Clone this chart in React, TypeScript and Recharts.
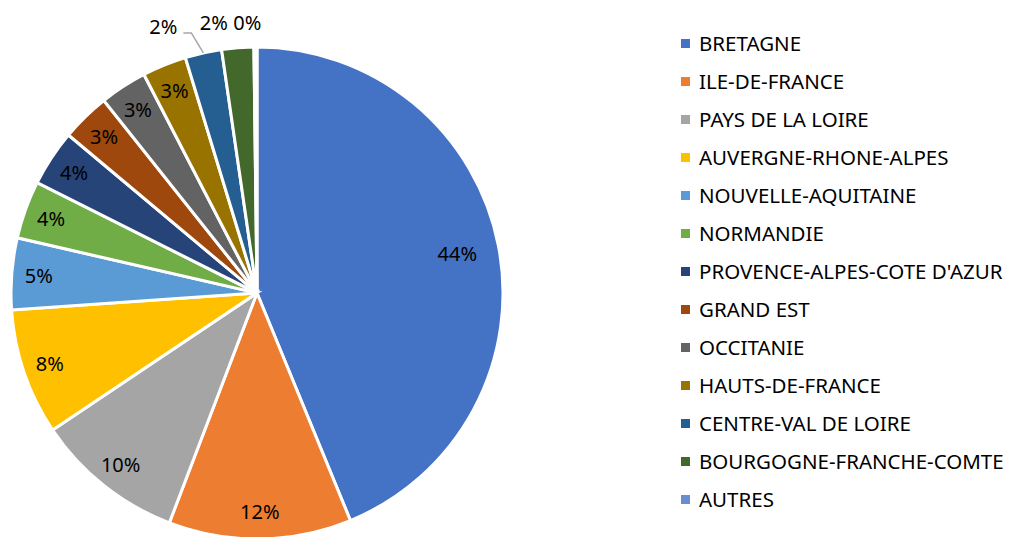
import React from 'react';
import { PieChart, Pie, Cell, Legend } from 'recharts';

const regions = [
  'BRETAGNE',
  'ILE-DE-FRANCE',
  'PAYS DE LA LOIRE',
  'AUVERGNE-RHONE-ALPES',
  'NOUVELLE-AQUITAINE',
  'NORMANDIE',
  "PROVENCE-ALPES-COTE D'AZUR",
  'GRAND EST',
  'OCCITANIE',
  'HAUTS-DE-FRANCE',
  'CENTRE-VAL DE LOIRE',
  'BOURGOGNE-FRANCHE-COMTE',
  'AUTRES'
];

const shares = [43.8, 12.0, 9.8, 8.3, 4.7, 3.8, 3.7, 3.2, 3.1, 2.9, 2.4, 2.1, 0.2];

const colors = [
  '#4472C4', '#ED7D31', '#A5A5A5', '#FFC000', '#5B9BD5', '#70AD47',
  '#264478', '#9E480E', '#636363', '#997300', '#255E91', '#43682B', '#698ED0'
];

const data = regions.map((name, i) => ({ name, value: shares[i] }));

const FONT = '"Noto Sans", sans-serif';
const RAD = Math.PI / 180;

const renderLabel = (props: any) => {
  const { cx, cy, midAngle, outerRadius, percent, index } = props;
  const text = `${Math.round(percent * 100)}%`;
  const cos = Math.cos(-midAngle * RAD);
  const sin = Math.sin(-midAngle * RAD);

  if (index === 10) {
    // small slice: label outside with a leader line
    const sx = cx + outerRadius * cos;
    const sy = cy + outerRadius * sin;
    const ex = sx - 12;
    const ey = sy - 20;
    return (
      <g>
        <polyline
          points={`${sx},${sy} ${ex},${ey} ${ex - 8},${ey}`}
          fill="none"
          stroke="#A6A6A6"
          strokeWidth={1.5}
        />
        <text x={ex - 28} y={ey - 6} textAnchor="middle" dominantBaseline="central"
          fontFamily={FONT} fontSize={20} fill="#000">{text}</text>
      </g>
    );
  }
  if (index >= 11) {
    const r = outerRadius + 25;
    const x = cx + r * cos + (index === 11 ? -22 : -8);
    const y = cy + r * sin;
    return (
      <text x={x} y={y} textAnchor="middle" dominantBaseline="central"
        fontFamily={FONT} fontSize={20} fill="#000">{text}</text>
    );
  }
  const r = outerRadius * (percent > 0.3 ? 0.83 : 0.89);
  return (
    <text x={cx + r * cos} y={cy + r * sin} textAnchor="middle" dominantBaseline="central"
      fontFamily={FONT} fontSize={20} fill="#000">{text}</text>
  );
};

// legend keeps the data order (recharts would sort it)
const renderLegend = () => (
  <div style={{ fontFamily: FONT, fontSize: 20.5, color: '#000' }}>
    {regions.map((name, i) => (
      <div key={name} style={{ display: 'flex', alignItems: 'center', height: 38 }}>
        <span style={{ width: 9, height: 9, background: colors[i], marginRight: 9, display: 'inline-block' }} />
        <span style={{ whiteSpace: 'nowrap' }}>{name}</span>
      </div>
    ))}
  </div>
);

export default function App() {
  return (
    <div style={{ width: 1006, height: 529, background: '#fff' }}>
      <PieChart width={1006} height={529} margin={{ top: 0, right: 0, bottom: 0, left: 0 }}>
        <Pie
          data={data}
          dataKey="value"
          nameKey="name"
          cx={249}
          cy={285}
          outerRadius={246}
          startAngle={90}
          endAngle={-270}
          stroke="#fff"
          strokeWidth={3}
          label={renderLabel}
          labelLine={false}
          isAnimationActive={false}
        >
          {data.map((d, i) => (
            <Cell key={d.name} fill={colors[i]} />
          ))}
        </Pie>
        <Legend
          layout="vertical"
          align="right"
          verticalAlign="top"
          content={renderLegend}
          wrapperStyle={{ left: 673, top: 16, width: 333 }}
        />
      </PieChart>
    </div>
  );
}
